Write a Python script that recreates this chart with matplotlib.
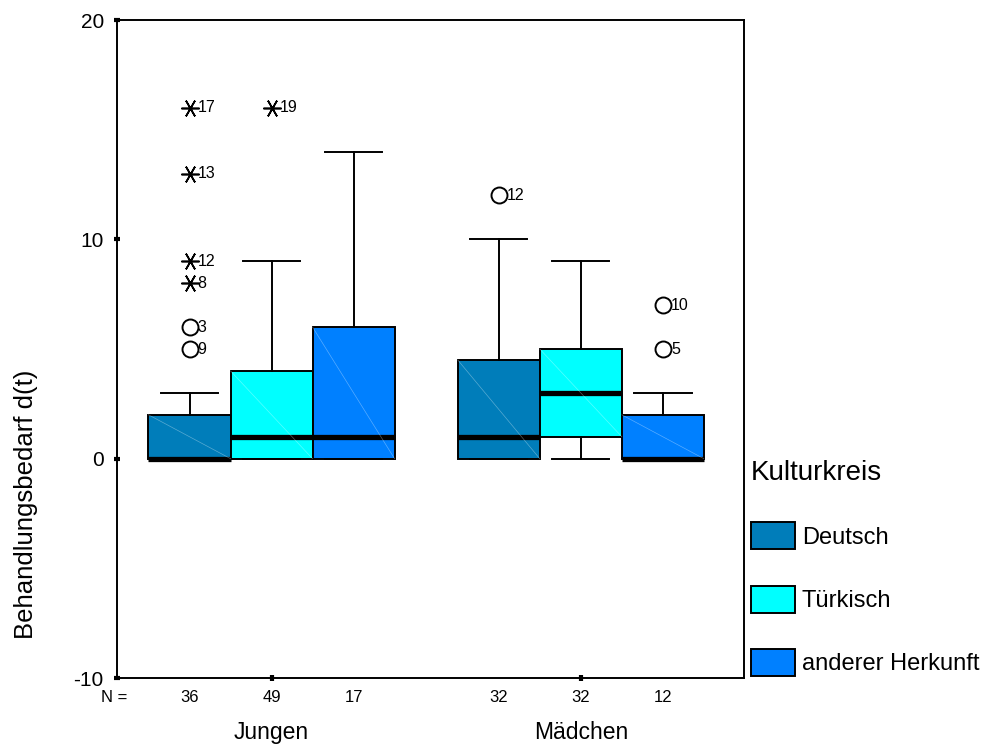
import numpy as np
import matplotlib.pyplot as plt
from matplotlib.patches import Patch
import matplotlib.transforms as mtransforms

plt.rcParams['font.family'] = ['Liberation Sans', 'DejaVu Sans']

groups = ['Jungen', 'Mädchen']
kultur = ['Deutsch', 'Türkisch', 'anderer Herkunft']
colors = ['#007DBA', '#00FFFF', '#0080FF']
n_values = [36, 49, 17, 32, 32, 12]

# box statistics (Jungen x3, Mädchen x3)
q1 = [0, 0, 0, 0, 1, 0]
med = [0, 1, 1, 1, 3, 0]
q3 = [2, 4, 6, 4.5, 5, 2]
whislo = [0, 0, 0, 0, 0, 0]
whishi = [3, 9, 14, 10, 9, 3]
# outliers: (box index, value, case label)
circ_box = [0, 0, 3, 5, 5]
circ_val = [5, 6, 12, 5, 7]
circ_lab = ['9', '3', '12', '5', '10']
star_box = [0, 0, 0, 0, 1]
star_val = [8, 9, 13, 16, 16]
star_lab = ['8', '12', '13', '17', '19']

group_gap = 0.77
pos = [g * (3 + group_gap) + k for g in range(2) for k in range(3)]

fig = plt.figure(figsize=(9.84, 7.44), dpi=100)
ax = fig.add_axes([117/984, 66/744, 627/984, 658/744])

stats = []
for i in range(6):
    stats.append(dict(q1=q1[i], med=med[i], q3=q3[i], whislo=whislo[i],
                      whishi=whishi[i], fliers=[]))
bp = ax.bxp(stats, positions=pos, widths=1.0, capwidths=0.7, patch_artist=True,
            showfliers=False,
            boxprops=dict(linewidth=1.4, edgecolor='black'),
            whiskerprops=dict(linewidth=1.4, color='black'),
            capprops=dict(linewidth=1.4, color='black'),
            medianprops=dict(linewidth=3.8, color='black', solid_capstyle='butt'))
for i, b in enumerate(bp['boxes']):
    b.set_facecolor(colors[i % 3])
    # faint diagonal across each box
    ax.plot([pos[i] - 0.5, pos[i] + 0.5], [q3[i], q1[i]], color='white',
            lw=0.5, alpha=0.35, zorder=b.get_zorder() + 0.1)

for b, v, lab in zip(circ_box, circ_val, circ_lab):
    ax.plot(pos[b], v, marker='o', ms=11.5, mfc='white', mec='black', mew=1.4, zorder=5)
    ax.text(pos[b] + 0.1, v, lab, fontsize=11.5, va='center', ha='left', zorder=6)
for b, v, lab in zip(star_box, star_val, star_lab):
    ax.plot(pos[b], v, marker=(6, 2, 90), ms=13, color='black', mew=1.2, zorder=5)
    ax.text(pos[b] + 0.1, v, lab, fontsize=11.5, va='center', ha='left', zorder=6)

ax.set_xlim(-0.884, 6.76)
ax.set_ylim(-10, 20)
ax.set_yticks([-10, 0, 10, 20])
ax.set_yticklabels(['-10', '0', '10', '20'], fontsize=15)
ax.tick_params(axis='y', direction='inout', length=5, width=3, pad=7)
ax.set_xticks([pos[1], pos[4]])
ax.set_xticklabels([])
ax.tick_params(axis='x', direction='inout', length=5, width=3)
for s in ax.spines.values():
    s.set_linewidth(1.4)
ax.set_ylabel('Behandlungsbedarf d(t)', fontsize=18.5)
ax.yaxis.set_label_coords(-0.126, 0.264)

trans = mtransforms.blended_transform_factory(ax.transData, ax.transAxes)
ax.text(-0.92, -0.030, 'N =', transform=trans, ha='center', va='center', fontsize=12)
for p, n in zip(pos, n_values):
    ax.text(p, -0.030, str(n), transform=trans, ha='center', va='center', fontsize=12)
ax.text(pos[1], -0.0835, groups[0], transform=trans, ha='center', va='center', fontsize=16.5)
ax.text(pos[4], -0.0835, groups[1], transform=trans, ha='center', va='center', fontsize=16.5)

handles = [Patch(facecolor=c, edgecolor='black', linewidth=1.4) for c in colors]
leg = fig.legend(handles, kultur, title='Kulturkreis', loc='upper left',
                 bbox_to_anchor=(751/984, 1 - 460/744), frameon=False,
                 fontsize=17, title_fontsize=20, handlelength=1.86, handleheight=1.4,
                 labelspacing=1.53, handletextpad=0.3, borderaxespad=0, borderpad=0)
leg._legend_box.align = 'left'

fig.savefig('out.png', dpi=100)
